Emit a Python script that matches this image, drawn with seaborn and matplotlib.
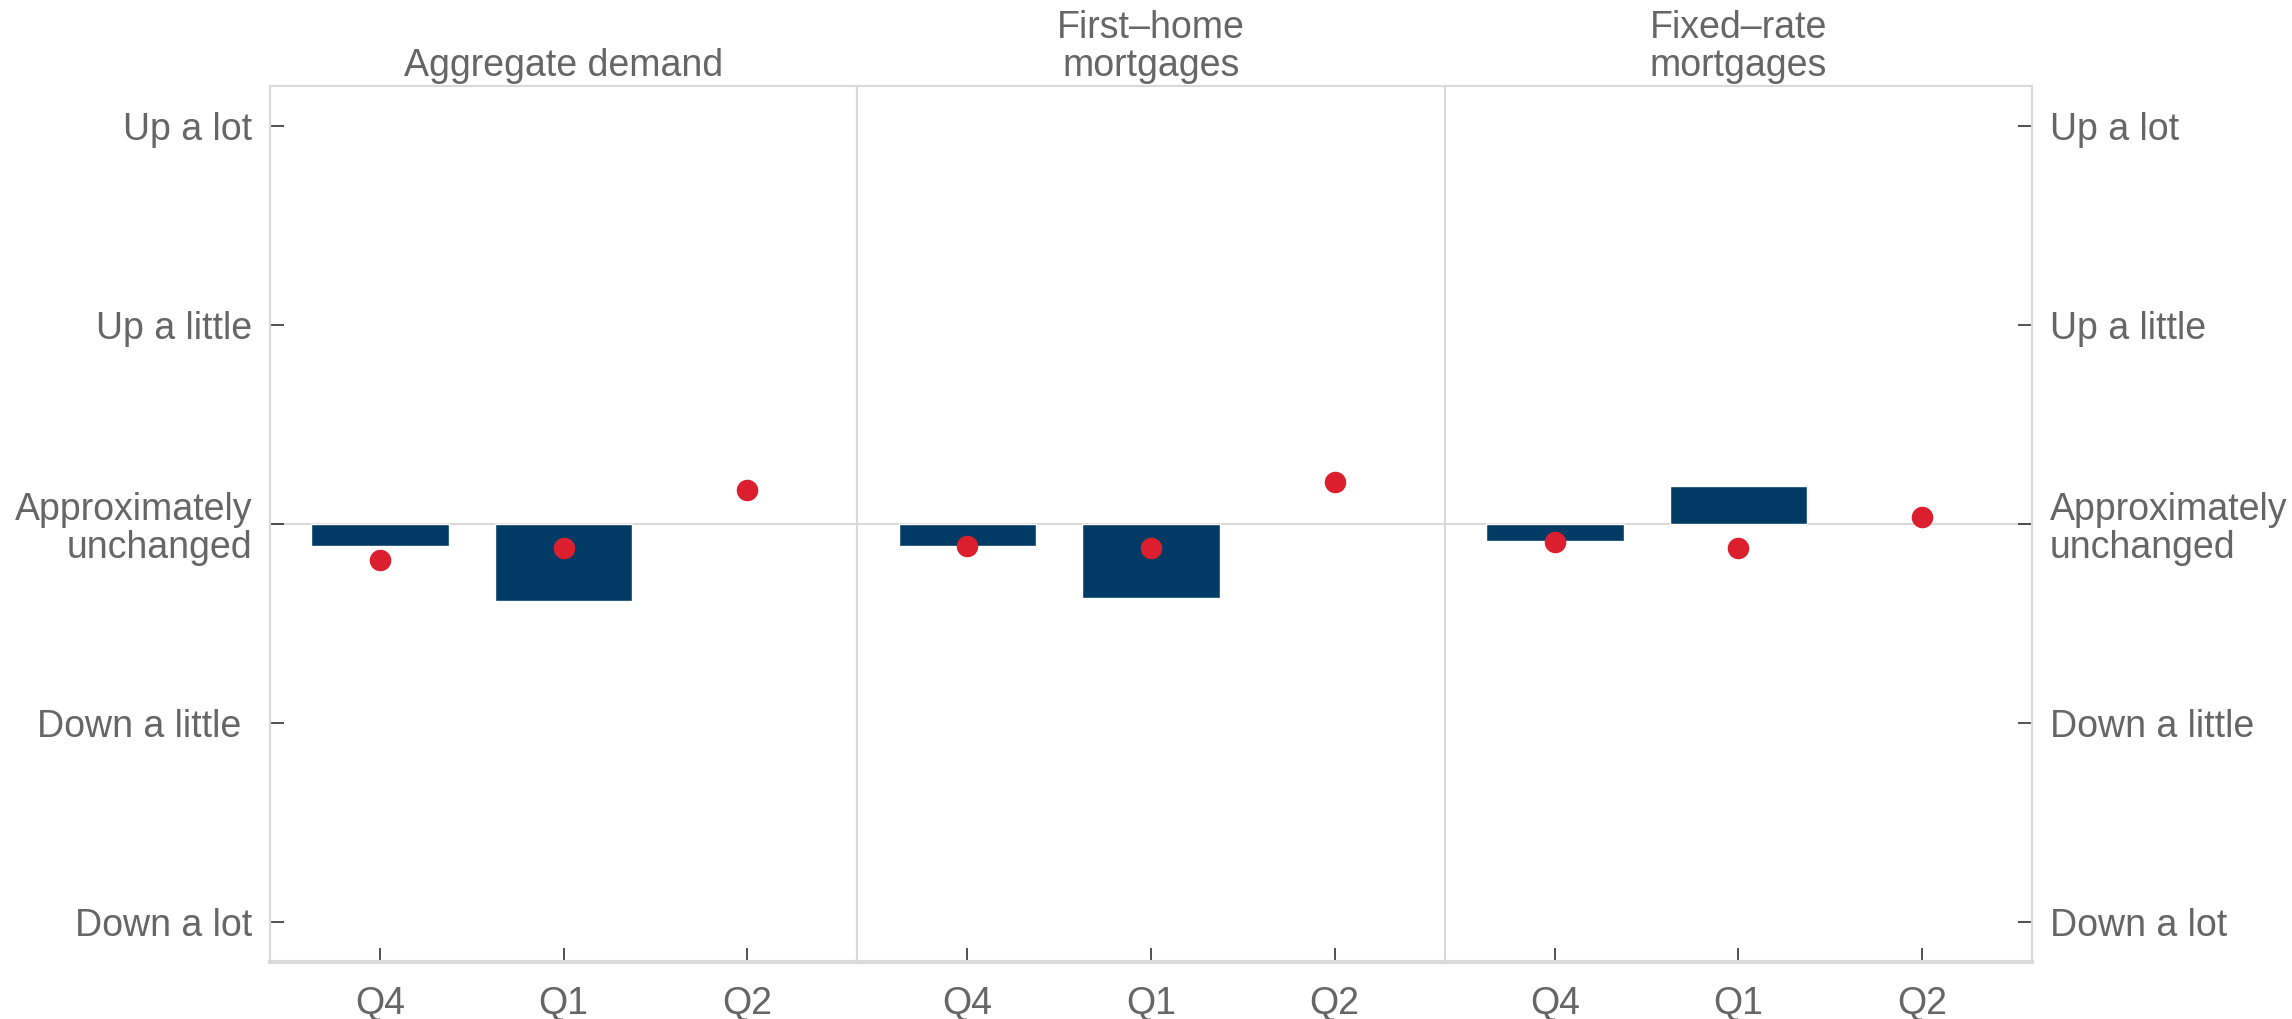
import numpy as np
import pandas as pd
import matplotlib
matplotlib.use("Agg")
import matplotlib.pyplot as plt
import seaborn as sns

# ---- data ----
quarters = ["Q4", "Q1", "Q2"]
panel_titles = ["Aggregate demand", "First\u2013home\nmortgages", "Fixed\u2013rate\nmortgages"]
bars_aggregate = [-0.11, -0.385, np.nan]
bars_first_home = [-0.11, -0.37, np.nan]
bars_fixed_rate = [-0.085, 0.19, np.nan]
dots_aggregate = [-0.18, -0.12, 0.17]
dots_first_home = [-0.11, -0.12, 0.21]
dots_fixed_rate = [-0.09, -0.12, 0.035]
ytick_values = [-2, -1, 0, 1, 2]
ytick_labels = ["Down a lot", "Down a little ", "Approximately\nunchanged", "Up a little", "Up a lot"]

bar_series = [bars_aggregate, bars_first_home, bars_fixed_rate]
dot_series = [dots_aggregate, dots_first_home, dots_fixed_rate]

NAVY = "#003B66"
RED = "#DC1F2E"
GREY_TXT = "#666666"
FRAME = "#d9d9d9"

sns.set_theme(style="white")
plt.rcParams["font.family"] = ["Liberation Sans", "DejaVu Sans"]

fig = plt.figure(figsize=(22.92, 10.19), dpi=100)
left, right, top, bottom = 270 / 2292, 2032 / 2292, 1 - 86 / 1019, 1 - 962 / 1019
gs = fig.add_gridspec(1, 3, left=left, right=right, top=top, bottom=bottom, wspace=0)
axes = [fig.add_subplot(gs[0, i]) for i in range(3)]

FS = 27
for i, ax in enumerate(axes):
    df = pd.DataFrame({"quarter": quarters, "bar": bar_series[i], "dot": dot_series[i]})
    ax.axhline(0, color=FRAME, lw=1.5, zorder=0)
    sns.barplot(data=df, x="quarter", y="bar", order=quarters, color=NAVY,
                width=0.75, saturation=1, ax=ax, zorder=2, errorbar=None)
    sns.stripplot(data=df, x="quarter", y="dot", order=quarters, color=RED,
                  jitter=False, size=15.5, linewidth=0, ax=ax, zorder=3)
    ax.set_xlim(-0.6, 2.6)
    ax.set_ylim(-2.2, 2.2)
    ax.set_xlabel("")
    ax.set_ylabel("")
    for s in ["top", "left", "right"]:
        ax.spines[s].set_color(FRAME)
        ax.spines[s].set_linewidth(1.5)
        ax.spines[s].set_visible(True)
    ax.spines["bottom"].set_color(FRAME)
    ax.spines["bottom"].set_linewidth(3)
    ax.spines["bottom"].set_visible(True)

    ax.set_yticks(ytick_values)
    ax.tick_params(axis="x", direction="in", length=10, width=1.2, color="#333333",
                   labelsize=FS, labelcolor=GREY_TXT, pad=17, bottom=True)
    if i == 0:
        ax.set_yticklabels(ytick_labels)
        ax.tick_params(axis="y", direction="in", length=10, width=1.2, color="#333333",
                       labelsize=FS, labelcolor=GREY_TXT, pad=13, left=True, right=False,
                       labelleft=True, labelright=False)
    elif i == 2:
        ax.yaxis.tick_right()
        ax.set_yticklabels(ytick_labels)
        ax.tick_params(axis="y", direction="in", length=10, width=1.2, color="#333333",
                       labelsize=FS, labelcolor=GREY_TXT, pad=13, left=False, right=True,
                       labelleft=False, labelright=True)
    else:
        ax.tick_params(axis="y", left=False, right=False, labelleft=False, labelright=False)
    for lab in ax.get_yticklabels():
        lab.set_linespacing(1.08)

    ax.annotate(panel_titles[i], xy=(0.5, 1.0), xycoords="axes fraction",
                xytext=(0, 1.5), textcoords="offset points", ha="center", va="bottom",
                fontsize=FS, color=GREY_TXT, linespacing=1.08)

fig.savefig("out.png", dpi=100, facecolor="white")
